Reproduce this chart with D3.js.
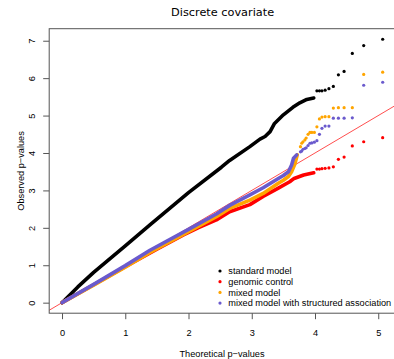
<!DOCTYPE html>
<html>
<head>
<meta charset="utf-8">
<script src="https://cdn.jsdelivr.net/npm/d3@7"></script>
<style>
  html, body { margin: 0; padding: 0; background: #fff; }
  svg { display: block; }
  text { font-family: "Liberation Sans", Arial, Helvetica, sans-serif; fill: #000; }
</style>
</head>
<body>
<svg id="chart" width="394" height="359"></svg>
<script>
// QQ plot of -log10 p-values for four association models.
const seriesNames = ["standard model", "genomic control", "mixed model", "mixed model with structured association"];
const seriesColors = ["#000000", "#ff0000", "#ffa500", "#6a5acd"];

// Theoretical quantiles of the top-ranked markers (rank 1, 2, 3, ...)
const tailX = [5.07, 4.77, 4.59, 4.46, 4.37, 4.29, 4.22, 4.16, 4.11, 4.07, 4.03, 3.99, 3.95, 3.92, 3.89, 3.86, 3.84, 3.81, 3.79, 3.77];

// Observed values of those top-ranked markers, per model
const standardTailY = [7.04, 6.87, 6.66, 6.18, 6.09, 5.78, 5.72, 5.68, 5.66, 5.66, 5.66];
const genomicTailY  = [4.41, 4.30, 4.19, 3.89, 3.83, 3.63, 3.60, 3.59, 3.58, 3.57, 3.57];
const mixedTailY    = [6.16, 6.10, 5.21, 5.21, 5.21, 5.20, 4.97, 4.97, 4.96, 4.91, 4.70, 4.55, 4.55, 4.55, 4.50, 4.40, 4.35, 4.30, 4.26, 4.17];
const mixedSATailY  = [5.89, 5.81, 4.94, 4.93, 4.93, 4.93, 4.72, 4.72, 4.66, 4.50, 4.33, 4.29, 4.27, 4.26, 4.20, 4.14, 4.12, 4.10, 4.05, 4.03];

// Bulk of each distribution (dense run of points), theoretical vs observed
const standardBulkX = [0, 0.25, 0.5, 1.0, 1.39, 2.0, 2.52, 2.65, 2.97, 3.13, 3.21, 3.29, 3.36, 3.50, 3.65, 3.76, 3.87, 3.98];
const standardBulkY = [0, 0.42, 0.81, 1.52, 2.08, 2.94, 3.62, 3.80, 4.17, 4.37, 4.44, 4.57, 4.79, 5.02, 5.22, 5.34, 5.43, 5.47];
const genomicBulkX  = [0, 0.5, 1.0, 1.5, 1.92, 2.15, 2.44, 2.65, 2.97, 3.18, 3.42, 3.60, 3.67, 3.82, 3.98];
const genomicBulkY  = [0, 0.48, 0.96, 1.43, 1.81, 2.00, 2.21, 2.43, 2.62, 2.84, 3.06, 3.23, 3.32, 3.41, 3.47];
const mixedBulkX    = [0, 0.5, 1.0, 1.39, 2.0, 2.44, 2.65, 2.97, 3.18, 3.42, 3.50, 3.58, 3.63, 3.68, 3.72];
const mixedBulkY    = [0, 0.47, 0.95, 1.34, 1.90, 2.30, 2.52, 2.74, 2.92, 3.19, 3.27, 3.37, 3.50, 3.70, 3.95];
const mixedSABulkX  = [0, 0.5, 1.0, 1.39, 2.0, 2.44, 2.65, 2.97, 3.18, 3.42, 3.50, 3.58, 3.63, 3.66, 3.71];
const mixedSABulkY  = [0, 0.49, 0.99, 1.40, 1.96, 2.37, 2.60, 2.88, 3.07, 3.32, 3.40, 3.50, 3.68, 3.86, 3.95];

const xTicks = [0, 1, 2, 3, 4, 5];
const yTicks = [0, 1, 2, 3, 4, 5, 6, 7];

const bulkX = [standardBulkX, genomicBulkX, mixedBulkX, mixedSABulkX];
const bulkY = [standardBulkY, genomicBulkY, mixedBulkY, mixedSABulkY];
const tailY = [standardTailY, genomicTailY, mixedTailY, mixedSATailY];

const svg = d3.select("#chart");

// Axis limits padded by 4% of the data range on each side
const xMax = d3.max(tailX), xMin = 0;
const yMax = d3.max(tailY.flat()), yMin = 0;
const xPad = (xMax - xMin) * 0.04, yPad = (yMax - yMin) * 0.04;

const x = d3.scaleLinear().domain([xMin - xPad, xMax + xPad]).range([49.2, 395.5]);
const y = d3.scaleLinear().domain([yMin - yPad, yMax + yPad]).range([313.2, 28.7]);

const plot = svg.append("g");

// Reference line y = x
const [d0, d1] = x.domain();
plot.append("line")
  .attr("x1", x(d0)).attr("y1", y(d0))
  .attr("x2", x(d1)).attr("y2", y(d1))
  .attr("stroke", "#ff3a3a").attr("stroke-width", 0.9);

const line = d3.line().x(d => x(d[0])).y(d => y(d[1]));

seriesNames.forEach((name, i) => {
  const g = plot.append("g");
  const bulk = d3.zip(bulkX[i], bulkY[i]);
  g.append("path")
    .attr("d", line(bulk))
    .attr("fill", "none")
    .attr("stroke", seriesColors[i])
    .attr("stroke-width", 3.6)
    .attr("stroke-linecap", "round")
    .attr("stroke-linejoin", "round");
  const tail = d3.zip(tailX.slice(0, tailY[i].length), tailY[i]);
  g.selectAll("circle").data(tail).join("circle")
    .attr("cx", d => x(d[0])).attr("cy", d => y(d[1]))
    .attr("r", 1.6).attr("fill", seriesColors[i]);
});

// Plot frame
const [xr0, xr1] = x.range(), [yr0, yr1] = y.range();
svg.append("rect")
  .attr("x", xr0).attr("y", yr1)
  .attr("width", xr1 - xr0).attr("height", yr0 - yr1)
  .attr("fill", "none").attr("stroke", "#555").attr("stroke-width", 1);

// X axis
const xAxis = svg.append("g").attr("transform", `translate(0,${yr0})`)
  .call(d3.axisBottom(x).tickValues(xTicks).tickSize(6).tickPadding(10).tickFormat(d3.format("d")));
xAxis.select(".domain").remove();
xAxis.selectAll(".tick line").attr("stroke", "#555");
xAxis.selectAll(".tick text").attr("font-size", 9.2).attr("font-family", "Liberation Sans, Arial, sans-serif").attr("fill", "#000");

// Y axis with upright-rotated labels
const yAxis = svg.append("g").attr("transform", `translate(${xr0},0)`)
  .call(d3.axisLeft(y).tickValues(yTicks).tickSize(6).tickFormat(d3.format("d")));
yAxis.select(".domain").remove();
yAxis.selectAll(".tick line").attr("stroke", "#555");
yAxis.selectAll(".tick text")
  .attr("x", null).attr("dy", null)
  .attr("text-anchor", "middle")
  .attr("font-size", 9.2).attr("font-family", "Liberation Sans, Arial, sans-serif").attr("fill", "#000")
  .attr("transform", `translate(${35.3 - xr0},0) rotate(-90)`);

// Titles
svg.append("text")
  .attr("x", (xr0 + 394 + 2) / 2).attr("y", 16.3)
  .attr("text-anchor", "middle")
  .style("font-family", "'DejaVu Sans', sans-serif")
  .attr("font-size", 11.3)
  .text("Discrete covariate");

svg.append("text")
  .attr("x", 222).attr("y", 356.5)
  .attr("text-anchor", "middle").attr("font-size", 9.2)
  .text("Theoretical p\u2212values");

svg.append("text")
  .attr("transform", `translate(23.5,${(yr0 + yr1) / 2}) rotate(-90)`)
  .attr("text-anchor", "middle").attr("font-size", 9.2)
  .text("Observed p\u2212values");

// Legend
const legendRows = [271, 281.7, 292.4, 303.1];
const legend = svg.append("g");
seriesNames.forEach((name, i) => {
  legend.append("circle")
    .attr("cx", 220).attr("cy", legendRows[i]).attr("r", 1.6)
    .attr("fill", seriesColors[i]);
  legend.append("text")
    .attr("x", 228.3).attr("y", legendRows[i] + 3.3)
    .attr("font-size", 9.2)
    .text(name);
});
</script>
</body>
</html>
